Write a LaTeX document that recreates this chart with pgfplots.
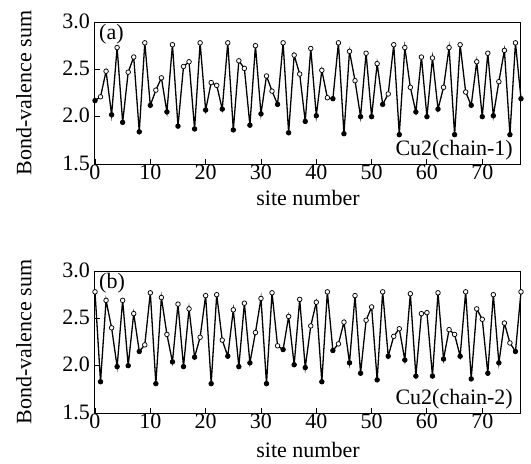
\documentclass[border=0pt]{standalone}
\usepackage{fontspec}
\setmainfont{Liberation Serif}
\usepackage{pgfplots}
\usepackage{pgfplotstable}
\pgfplotsset{compat=1.18}

% site, bond-valence sum, marker class (f = filled, o = open)
\pgfplotstableread{
s v c
0 2.17 f
1 2.21 o
2 2.48 o
3 2.02 f
4 2.73 o
5 1.94 f
6 2.47 o
7 2.63 o
8 1.84 f
9 2.78 o
10 2.12 f
11 2.28 o
12 2.41 o
13 2.05 f
14 2.76 o
15 1.90 f
16 2.53 o
17 2.58 o
18 1.87 f
19 2.78 o
20 2.07 f
21 2.36 o
22 2.33 o
23 2.08 f
24 2.78 o
25 1.86 f
26 2.59 o
27 2.51 o
28 1.91 f
29 2.75 o
30 2.03 f
31 2.43 o
32 2.27 o
33 2.13 f
34 2.78 o
35 1.83 f
36 2.65 o
37 2.45 o
38 1.95 f
39 2.72 o
40 2.01 f
41 2.49 o
42 2.20 o
43 2.19 f
44 2.78 o
45 1.82 f
46 2.69 o
47 2.38 o
48 2.00 f
49 2.67 o
50 2.00 f
51 2.56 o
52 2.13 f
53 2.24 o
54 2.76 o
55 1.81 f
56 2.73 o
57 2.31 o
58 2.05 f
59 2.63 o
60 2.00 f
61 2.62 o
62 2.08 f
63 2.31 o
64 2.73 o
65 1.81 f
66 2.76 o
67 2.26 o
68 2.12 f
69 2.58 o
70 2.00 f
71 2.67 o
72 2.01 f
73 2.37 o
74 2.70 o
75 1.81 f
76 2.78 o
77 2.19 f
}\chainone

\pgfplotstableread{
s v c
0 2.78 o
1 1.83 f
2 2.69 o
3 2.40 o
4 1.99 f
5 2.69 o
6 2.00 f
7 2.55 o
8 2.15 f
9 2.22 o
10 2.77 o
11 1.81 f
12 2.72 o
13 2.33 o
14 2.04 f
15 2.65 o
16 1.99 f
17 2.60 o
18 2.09 f
19 2.30 o
20 2.74 o
21 1.81 f
22 2.75 o
23 2.27 o
24 2.10 f
25 2.59 o
26 1.99 f
27 2.66 o
28 2.03 f
29 2.35 o
30 2.71 o
31 1.81 f
32 2.77 o
33 2.21 o
34 2.17 f
35 2.52 o
36 2.01 f
37 2.70 o
38 1.98 f
39 2.42 o
40 2.67 o
41 1.83 f
42 2.78 o
43 2.16 f
44 2.23 o
45 2.46 o
46 2.03 f
47 2.74 o
48 1.92 f
49 2.48 o
50 2.62 o
51 1.85 f
52 2.78 o
53 2.10 f
54 2.31 o
55 2.39 o
56 2.06 f
57 2.76 o
58 1.89 f
59 2.55 o
60 2.56 o
61 1.89 f
62 2.77 o
63 2.07 f
64 2.38 o
65 2.33 o
66 2.10 f
67 2.78 o
68 1.86 f
69 2.60 o
70 2.49 o
71 1.92 f
72 2.75 o
73 2.03 f
74 2.45 o
75 2.24 o
76 2.15 f
77 2.78 o
}\chaintwo

\pgfplotsset{
  bvsaxis/.style={
    scale only axis,
    width=426bp, height=142bp,
    xmin=0, xmax=77, ymin=1.5, ymax=3.0,
    xtick={0,10,...,70}, ytick={1.5,2.0,2.5,3.0},
    xtick pos=bottom, ytick pos=left,
    tick align=inside,
    major tick length=5bp,
    axis line style={line width=1bp},
    every tick/.style={black, line width=0.9bp},
    font=\fontsize{22bp}{26bp}\selectfont,
    /pgf/number format/assume math mode=true,
    yticklabel style={/pgf/number format/fixed, /pgf/number format/fixed zerofill, /pgf/number format/precision=1, inner sep=0pt, xshift=-5bp, yshift=1bp},
    xticklabel style={inner sep=1bp},
    every axis y label/.style={at={(axis description cs:-0.167,0.5)}, rotate=90, anchor=center},
    xlabel={site number},
    ylabel={Bond-valence sum},
    clip=false,
  },
  bvsline/.style={
    black, line width=1.3bp,
    scatter, scatter src=explicit symbolic,
    mark size=2.3bp,
    scatter/classes={
      o={mark=*, fill=white, draw=black, line width=0.75bp},
      f={mark=*, fill=black, draw=black, line width=0.75bp}
    },
  },
}

\begin{document}
\begin{tikzpicture}
\begin{axis}[bvsaxis, at={(0,0)}, anchor=south west,
    every axis x label/.style={at={(axis description cs:0.5,0)}, anchor=center, yshift=-34bp}]
  \addplot[bvsline] table[x=s, y=v, meta=c] {\chainone};
  \node[anchor=base west, inner sep=0] at ([xshift=4bp, yshift=-17bp]rel axis cs:0,1) {(a)};
  \node[anchor=base east, inner sep=0] at ([xshift=-8bp, yshift=9bp]rel axis cs:1,0) {Cu2(chain-1)};
\end{axis}
\begin{axis}[bvsaxis, at={(0,-249bp)}, anchor=south west,
    every axis x label/.style={at={(axis description cs:0.5,0)}, anchor=center, yshift=-37bp}]
  \addplot[bvsline] table[x=s, y=v, meta=c] {\chaintwo};
  \node[anchor=base west, inner sep=0] at ([xshift=4bp, yshift=-17bp]rel axis cs:0,1) {(b)};
  \node[anchor=base east, inner sep=0] at ([xshift=-8bp, yshift=9bp]rel axis cs:1,0) {Cu2(chain-2)};
\end{axis}
\pgfresetboundingbox
\path (-95bp,164bp) rectangle (436bp,-300bp);
\end{tikzpicture}
\end{document}
